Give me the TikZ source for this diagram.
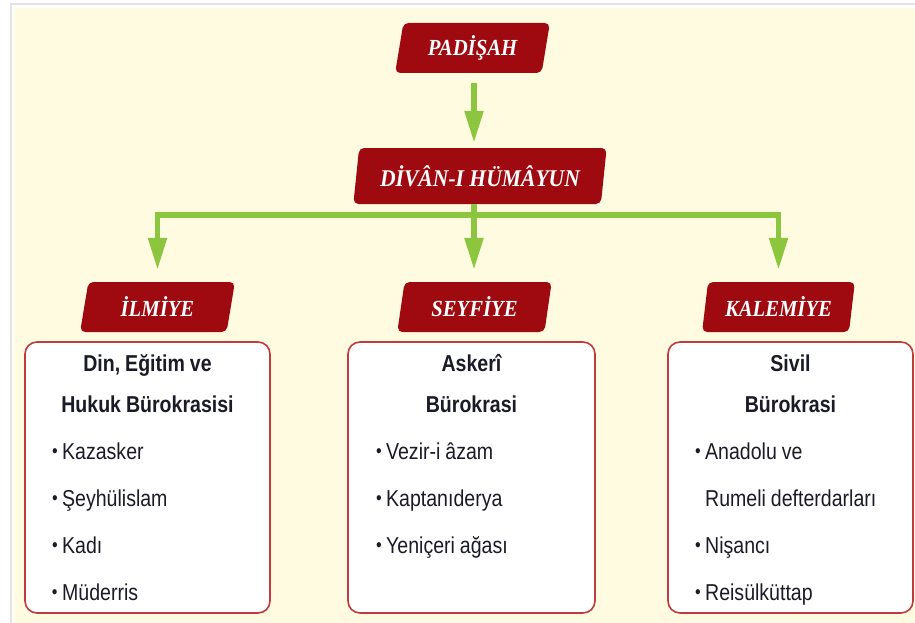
\documentclass[tikz,border=0pt]{standalone}
\usepackage{fontspec}
\newfontfamily\kutufont{Liberation Sans}[FakeStretch=0.85]
\newfontfamily\seritfont{Liberation Serif}[FakeStretch=0.9]
\usetikzlibrary{shapes.geometric, arrows.meta, positioning}
\definecolor{koyukirmizi}{HTML}{9E0A10}
\definecolor{acikkirmizi}{HTML}{BF3B3E}
\definecolor{yesil}{HTML}{8CC63F}
\definecolor{krem}{HTML}{FFFBE0}
\definecolor{yazi}{HTML}{1A1B26}
\setlength{\parindent}{0pt}
\newcommand{\madde}{\raisebox{2pt}{\fontsize{19}{19}\selectfont•}\hspace{4.5pt}}
\tikzstyle{serit} = [
    trapezium,
    trapezium left angle = 79,
    trapezium right angle = 101,
    trapezium stretches = true,
    rounded corners = 5pt,
    minimum width = 155pt,
    minimum height = 50pt,
    inner sep = 2pt,
    fill = koyukirmizi,
    text = white,
    font = \seritfont\bfseries\itshape\fontsize{23}{26}\selectfont,
]
\tikzstyle{kutu} = [
    rectangle,
    rounded corners = 12pt,
    minimum width = 245pt,
    minimum height = 271pt,
    draw = acikkirmizi,
    line width = 1.6pt,
    fill = white,
]
\tikzstyle{liste} = [
    text width = 191pt,
    align = left,
    inner sep = 0pt,
    text = yazi,
    font = \kutufont\fontsize{23}{47}\selectfont,
    execute at begin node = {\setlength{\spaceskip}{5pt plus 1pt}\setlength{\xspaceskip}{5pt plus 1pt}},
]
\tikzstyle{cizgi} = [draw = yesil, line width = 5.5pt]
\tikzstyle{ok} = [cizgi, -{Triangle[width = 18pt, length = 32pt]}]

\begin{document}
\begin{tikzpicture}[x = 1pt, y = -1pt]
    \useasboundingbox (0, 0) rectangle (915, 623);
    \fill[gray!22] (10, 3) rectangle (915, 623);
    \fill[white] (12, 5) rectangle (915, 623);
    \fill[krem] (14, 8) rectangle (915, 623);

    \node (Padisah) [serit] at (472.5, 48) {PADİŞAH};
    \node (Divan) [serit, minimum width = 254pt, minimum height = 56pt, font = \seritfont\bfseries\itshape\fontsize{24}{27}\selectfont] at (480, 176) {DİVÂN-I HÜMÂYUN};

    \node (Ilmiye) [serit] at (157.5, 307) {İLMİYE};
    \node (Seyfiye) [serit] at (474.5, 307) {SEYFİYE};
    \node (Kalemiye) [serit, minimum width = 153pt] at (778.5, 307) {KALEMİYE};

    \node (IlmiyeKutu) [kutu] at (147.5, 477.5) {};
    \node (SeyfiyeKutu) [kutu, minimum width = 247pt] at (471.5, 477.5) {};
    \node (KalemiyeKutu) [kutu] at (790.5, 477.5) {};

    \node (IlmiyeListe) [liste, below = 8pt of IlmiyeKutu.north] {{\centering\bfseries\rule{0pt}{22pt}Din, Eğitim ve\\[-6pt]Hukuk Bürokrasisi\par}\madde Kazasker\\\madde Şeyhülislam\\\madde Kadı\\\madde Müderris};
    \node (SeyfiyeListe) [liste, below = 8pt of SeyfiyeKutu.north] {{\centering\bfseries\rule{0pt}{22pt}Askerî\\[-6pt]Bürokrasi\par}\madde Vezir-i âzam\\\madde Kaptanıderya\\\madde Yeniçeri ağası};
    \node (KalemiyeListe) [liste, below = 8pt of KalemiyeKutu.north] {{\centering\bfseries\rule{0pt}{22pt}Sivil\\[-6pt]Bürokrasi\par}\madde Anadolu ve\\\hphantom{\madde}Rumeli defterdarları\\\madde Nişancı\\\madde Reisülküttap};

    % yesil oklar
    \coordinate (Catal) at (474, 215);
    \draw[ok, shorten < = 10pt, shorten > = 5pt] (Padisah.south -| Catal) -- (Divan.north -| Catal);
    \draw[cizgi] (Divan.south -| Catal) -- (Catal);
    \draw[ok, shorten > = 12pt] (Catal) -| (Ilmiye.north);
    \draw[ok, shorten > = 12pt] (Catal) -- (Seyfiye.north -| Catal);
    \draw[ok, shorten > = 12pt] (Catal) -| (Kalemiye.north);
\end{tikzpicture}
\end{document}
